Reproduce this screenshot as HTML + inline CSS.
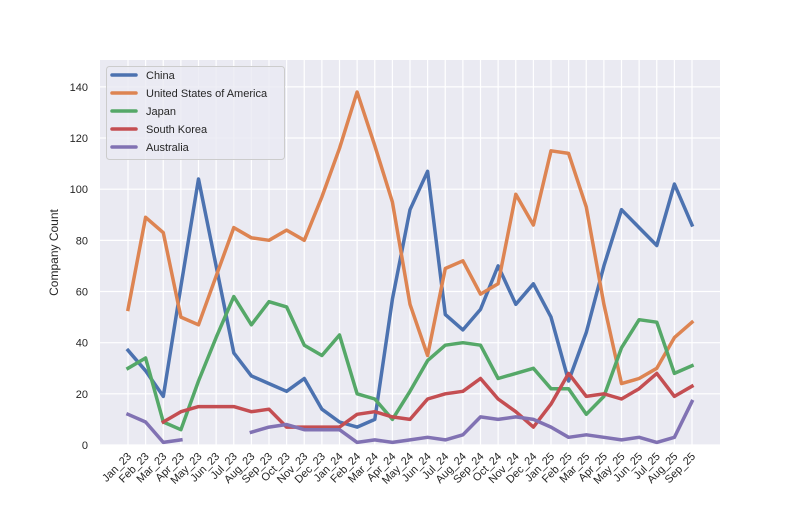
<!DOCTYPE html>
<html><head><meta charset="utf-8">
<style>
body{margin:0;background:#fff;font-family:"Liberation Sans","DejaVu Sans",sans-serif;}
svg text{font-family:"Liberation Sans","DejaVu Sans",sans-serif;}
</style></head>
<body>
<svg id="chart" width="800" height="500" xmlns="http://www.w3.org/2000/svg"></svg>
<script>
const categories=["Jan_23","Feb_23","Mar_23","Apr_23","May_23","Jun_23","Jul_23","Aug_23","Sep_23","Oct_23","Nov_23","Dec_23","Jan_24","Feb_24","Mar_24","Apr_24","May_24","Jun_24","Jul_24","Aug_24","Sep_24","Oct_24","Nov_24","Dec_24","Jan_25","Feb_25","Mar_25","Apr_25","May_25","Jun_25","Jul_25","Aug_25","Sep_25"];
const china=[37,29,19,62,104,70,36,27,24,21,26,14,9,7,10,57,92,107,51,45,53,70,55,63,50,25,44,70,92,85,78,102,86];
const usa=[53,89,83,50,47,66,85,81,80,84,80,97,116,138,117,95,55,35,69,72,59,63,98,86,115,114,93,55,24,26,30,42,48];
const japan=[30,34,9,6,25,42,58,47,56,54,39,35,43,20,18,10,21,33,39,40,39,26,28,30,22,22,12,19,38,49,48,28,31];
const southKorea=[null,null,9,13,15,15,15,13,14,7,7,7,7,12,13,11,10,18,20,21,26,18,13,7,16,28,19,20,18,22,28,19,23];
const australia=[12,9,1,2,null,null,null,5,7,8,6,6,6,1,2,1,2,3,2,4,11,10,11,10,7,3,4,3,2,3,1,3,17];
const yTicks=[0,20,40,60,80,100,120,140];
const seriesNames=["China","United States of America","Japan","South Korea","Australia"];
const seriesColors=["#4c72b0","#dd8452","#55a868","#c44e52","#8172b3"];
const seriesData=[china,usa,japan,southKorea,australia];

const NS="http://www.w3.org/2000/svg";
const svg=document.getElementById('chart');
const L=100,R=720,T=60,B=445,yMax=150.5;
const x=i=>128+i*(692-128)/(categories.length-1);
const y=v=>B-v*(B-T)/yMax;
function mk(tag,attrs,parent){const e=document.createElementNS(NS,tag);for(const k in attrs)e.setAttribute(k,attrs[k]);(parent||svg).appendChild(e);return e;}

const bg=mk('rect',{x:L,y:T,width:R-L,height:B-T,fill:'#eaeaf2'});


categories.forEach((c,i)=>{
  const g=mk('line',{x1:x(i),x2:x(i),y1:T,y2:B,stroke:'#fff','stroke-width':1.2});
  
  
  const t=mk('text',{x:0,y:0,'font-size':11,fill:'#262626','text-anchor':'end',transform:`translate(${x(i)+4},${B+12}) rotate(-45)`});
  t.textContent=c;
  
  
});
yTicks.forEach(v=>{
  const g=mk('line',{x1:L,x2:R,y1:y(v),y2:y(v),stroke:'#fff','stroke-width':1.2});
  
  
  const t=mk('text',{x:L-12,y:y(v)+4,'font-size':11,fill:'#262626','text-anchor':'end'});
  t.textContent=v;
  
  
});
const yl=mk('text',{x:0,y:0,'font-size':12,fill:'#262626','text-anchor':'middle',transform:`translate(58,${(T+B)/2}) rotate(-90)`});
yl.textContent='Company Count';



seriesData.forEach((arr,si)=>{
  let d='',pen=false;
  arr.forEach((v,i)=>{
    if(v===null){pen=false;return;}
    d+=(pen?'L':'M')+x(i).toFixed(1)+','+y(v).toFixed(1)+' ';pen=true;
  });
  const p=mk('path',{d:d,fill:'none',stroke:seriesColors[si],'stroke-width':3.5,'stroke-linejoin':'round','stroke-linecap':'square'});
  
  
});

const lg=mk('g',{});


mk('rect',{x:106.5,y:66.5,width:178,height:93,rx:3,fill:'#eaeaf2','fill-opacity':0.8,stroke:'#ccc'},lg);
seriesNames.forEach((n,i)=>{
  const yy=75+i*18;
  const ln=mk('line',{x1:112,x2:136,y1:yy,y2:yy,stroke:seriesColors[i],'stroke-width':3.5,'stroke-linecap':'round'},lg);
  
  
  const t=mk('text',{x:146,y:yy+4,'font-size':11,fill:'#262626'},lg);
  t.textContent=n;
  
  
});
</script>
</body></html>
